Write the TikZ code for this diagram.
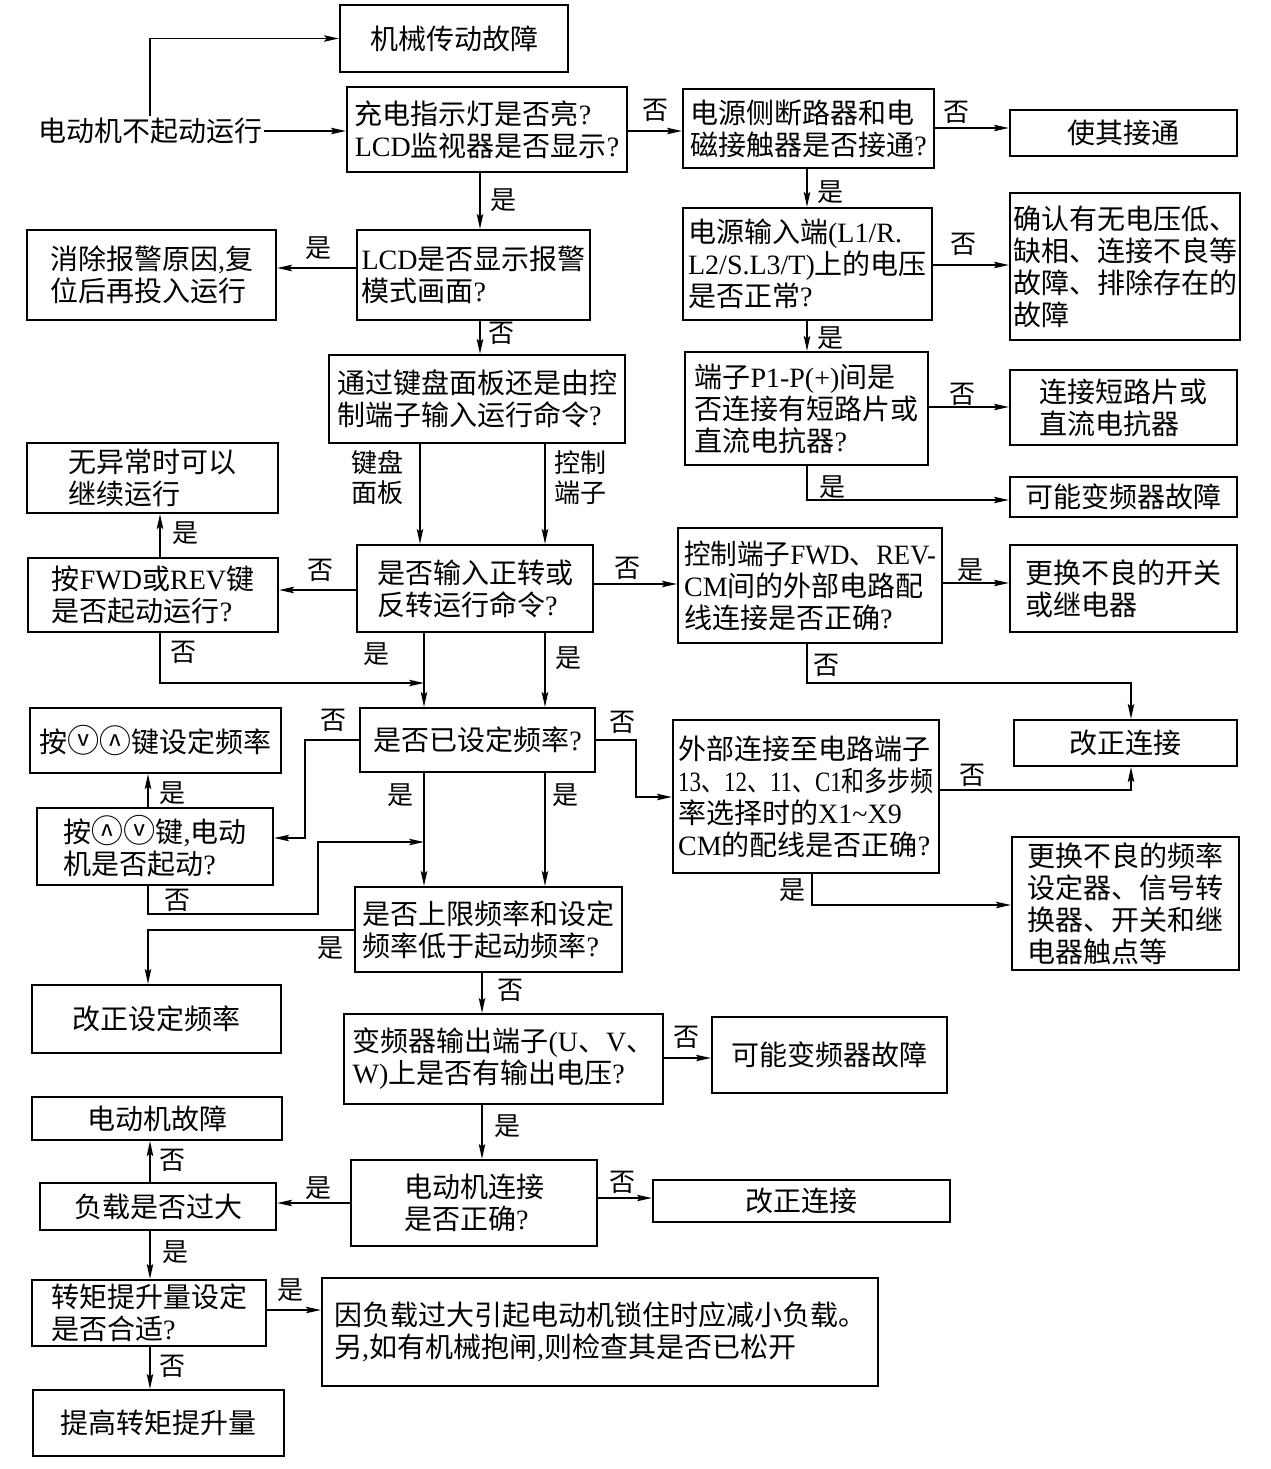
\documentclass[tikz,border=0pt]{standalone}
\usepackage{fontspec}
\setmainfont{Liberation Serif}
\newfontfamily\cjk{Noto Sans CJK SC}
\usetikzlibrary{arrows.meta}
\newcommand\lat[1]{{\rmfamily #1}}
\newcommand\qm{{\rmfamily ?}}
\newcommand\cirv{\scalebox{1.15}{ⓥ}}
\newcommand\cira{\scalebox{1.15}{\rotatebox[origin=c]{180}{ⓥ}}}
\newcommand\fsmain{\fontsize{28}{32}\selectfont\cjk}
\newcommand\fslbl{\fontsize{26}{30}\selectfont\cjk}
\newcommand\bx[6]{\node[box,minimum width={#4-#2},minimum height={#5-#3}] (#1) at ({(#2+#4)/2},{(#3+#5)/2}) {#6};}
\begin{document}
\begin{tikzpicture}[x=1pt,y=-1pt,
  box/.style={draw,line width=2.2pt,inner sep=0pt,align=left,font=\fsmain},
  txt/.style={inner sep=2pt,align=left,font=\fsmain},
  lbl/.style={inner sep=0pt,font=\fslbl},
  arr/.style={line width=1.8pt,-{Stealth[length=15pt,width=6.5pt,inset=3pt]}}]
\fill[white] (0,0) rectangle (1270,1469);
\useasboundingbox (0,0) rectangle (1270,1469);

% ---------- nodes ----------
\bx{A}{340}{5}{568}{72}{机械传动故障}
\node[txt] (start) at (150,131) {电动机不起动运行};
\bx{B}{347}{87}{627}{172}{充电指示灯是否亮\qm\\\lat{LCD}监视器是否显示\qm}
\bx{C}{683}{89}{934}{168}{电源侧断路器和电\\磁接触器是否接通\qm}
\bx{D}{1010}{110}{1237}{156}{使其接通}
\bx{E}{357}{230}{590}{320}{\lat{LCD}是否显示报警\\模式画面\qm}
\bx{F}{27}{230}{276}{320}{消除报警原因\lat{,}复\\位后再投入运行}
\bx{G}{683}{208}{932}{320}{电源输入端\lat{(L1/R.}\\\lat{L2/S.L3/T)}上的电压\\是否正常\qm}
\bx{H}{1010}{193}{1240}{340}{确认有无电压低、\\缺相、连接不良等\\故障、排除存在的\\故障}
\bx{I}{685}{352}{928}{465}{端子\lat{P1-P(+)}间是\\否连接有短路片或\\直流电抗器\qm}
\bx{J}{1010}{370}{1237}{445}{连接短路片或\\直流电抗器}
\bx{K}{1010}{477}{1237}{517}{可能变频器故障}
\bx{L}{329}{355}{625}{443}{通过键盘面板还是由控\\制端子输入运行命令\qm}
\bx{M}{357}{545}{593}{632}{是否输入正转或\\反转运行命令\qm}
\bx{N}{28}{558}{278}{632}{按\lat{FWD}或\lat{REV}键\\是否起动运行\qm}
\bx{O}{27}{443}{278}{513}{无异常时可以\\继续运行}
\bx{P}{678}{528}{942}{643}{\scalebox{0.95}[1]{控制端子\lat{FWD}、\lat{REV-}}\\\lat{CM}间的外部电路配\\线连接是否正确\qm}
\bx{Q}{1010}{545}{1237}{632}{更换不良的开关\\或继电器}
\bx{R}{1014}{720}{1237}{766}{改正连接}
\bx{S}{360}{708}{595}{772}{是否已设定频率\qm}
\bx{T}{30}{708}{281}{773}{按\cirv\cira 键设定频率}
\bx{U}{37}{808}{273}{885}{按\cira\cirv 键\lat{,}电动\\机是否起动\qm}
\bx{V}{673}{720}{939}{873}{外部连接至电路端子\\\scalebox{0.82}[1]{\lat{13}、\lat{12}、\lat{11}、\lat{C1}和多步频}\\率选择时的\lat{X1\char`~X9}\\\lat{CM}的配线是否正确\qm}
\bx{W}{1012}{837}{1239}{970}{更换不良的频率\\设定器、信号转\\换器、开关和继\\电器触点等}
\bx{X}{355}{887}{622}{972}{是否上限频率和设定\\频率低于起动频率\qm}
\bx{Y}{32}{985}{281}{1053}{改正设定频率}
\bx{Z}{344}{1014}{663}{1104}{变频器输出端子\lat{(U}、\lat{V}、\\\lat{W)}上是否有输出电压\qm}
\bx{AA}{712}{1017}{947}{1093}{可能变频器故障}
\bx{AB}{351}{1160}{597}{1246}{电动机连接\\是否正确\qm}
\bx{AC}{653}{1180}{950}{1222}{改正连接}
\bx{AD}{40}{1183}{276}{1230}{负载是否过大}
\bx{AE}{32}{1097}{282}{1140}{电动机故障}
\bx{AF}{32}{1280}{266}{1346}{转矩提升量设定\\是否合适\qm}
\bx{AG}{322}{1278}{878}{1386}{因负载过大引起电动机锁住时应减小负载。\\另\lat{,}如有机械抱闸\lat{,}则检查其是否已松开}
\bx{AH}{33}{1390}{284}{1456}{提高转矩提升量}

% ---------- helper coordinates ----------
\coordinate (x148) at (148,0);
\coordinate (x150) at (150,0);
\coordinate (x160) at (160,0);
\coordinate (x420) at (420,0);
\coordinate (x424) at (424,0);
\coordinate (x480) at (480,0);
\coordinate (x482) at (482,0);
\coordinate (x545) at (545,0);
\coordinate (x807) at (807,0);
\coordinate (x812) at (812,0);
\coordinate (j1) at (424,683);
\coordinate (j2) at (424,842);
\coordinate (r1) at (807,683);
\coordinate (s1) at (305,740);
\coordinate (s2) at (305,838);
\coordinate (u1) at (148,914);
\coordinate (u2) at (318,914);
\coordinate (u3) at (318,842);
\coordinate (v1) at (636,740);
\coordinate (v2) at (636,797);
\coordinate (w1) at (812,905);
\coordinate (k1) at (807,500);
\coordinate (vr) at (1131,790);

% ---------- connectors ----------
\draw[arr] (start.north) |- (A.west);
\draw[arr] (start.east) -- (start.east -| B.west);
\draw[arr] (B.east |- 0,131) -- (C.west |- 0,131);
\draw[arr] (C.east |- 0,128) -- (D.west |- 0,128);
\draw[arr] (B.south -| x480) -- (E.north -| x480);
\draw[arr] (E.west |- 0,268) -- (F.east |- 0,268);
\draw[arr] (C.south -| x807) -- (G.north -| x807);
\draw[arr] (G.east |- 0,265) -- (H.west |- 0,265);
\draw[arr] (G.south -| x807) -- (I.north -| x807);
\draw[arr] (I.east |- 0,407) -- (J.west |- 0,407);
\draw[arr] (I.south -| x807) -- (k1) -- (K.west |- k1);
\draw[arr] (E.south -| x480) -- (L.north -| x480);
\draw[arr] (L.south -| x420) -- (M.north -| x420);
\draw[arr] (L.south -| x545) -- (M.north -| x545);
\draw[arr] (M.west |- 0,590) -- (N.east |- 0,590);
\draw[arr] (N.north -| x160) -- (O.south -| x160);
\draw[arr] (M.east |- 0,584) -- (P.west |- 0,584);
\draw[arr] (P.east |- 0,583) -- (Q.west |- 0,583);
\draw[arr] (P.south -| x807) -- (r1) -| (R.north -| vr);
\draw[arr] (N.south -| x160) |- (j1);
\draw[arr] (M.south -| x424) -- (S.north -| x424);
\draw[arr] (M.south -| x545) -- (S.north -| x545);
\draw[arr] (S.west |- s1) -- (s1) -- (s2) -- (U.east |- s2);
\draw[arr] (U.north -| x148) -- (T.south -| x148);
\draw[arr] (U.south -| x148) -- (u1) -- (u2) -- (u3) -- (j2);
\draw[arr] (S.south -| x424) -- (X.north -| x424);
\draw[arr] (S.south -| x545) -- (X.north -| x545);
\draw[arr] (S.east |- v1) -- (v1) -- (v2) -- (V.west |- v2);
\draw[arr] (V.east |- vr) -- (vr) -- (R.south -| vr);
\draw[arr] (V.south -| x812) -- (w1) -- (W.west |- w1);
\draw[arr] (X.west |- 0,930) -| (Y.north -| x148);
\draw[arr] (X.south -| x482) -- (Z.north -| x482);
\draw[arr] (Z.east |- 0,1058) -- (AA.west |- 0,1058);
\draw[arr] (Z.south -| x482) -- (AB.north -| x482);
\draw[arr] (AB.east |- 0,1198) -- (AC.west |- 0,1198);
\draw[arr] (AB.west |- 0,1203) -- (AD.east |- 0,1203);
\draw[arr] (AD.north -| x150) -- (AE.south -| x150);
\draw[arr] (AD.south -| x150) -- (AF.north -| x150);
\draw[arr] (AF.east |- 0,1310) -- (AG.west |- 0,1310);
\draw[arr] (AF.south -| x150) -- (AH.north -| x150);

% ---------- labels ----------
\node[lbl] at (655,110) {否};
\node[lbl] at (956,112) {否};
\node[lbl] at (503,200) {是};
\node[lbl] at (318,248) {是};
\node[lbl] at (830,192) {是};
\node[lbl] at (963,244) {否};
\node[lbl] at (830,338) {是};
\node[lbl] at (962,394) {否};
\node[lbl] at (832,487) {是};
\node[lbl] at (501,333) {否};
\node[lbl,align=left] at (377,478) {键盘\\面板};
\node[lbl,align=left] at (580,478) {控制\\端子};
\node[lbl] at (320,570) {否};
\node[lbl] at (185,533) {是};
\node[lbl] at (627,568) {否};
\node[lbl] at (970,570) {是};
\node[lbl] at (826,665) {否};
\node[lbl] at (183,652) {否};
\node[lbl] at (376,654) {是};
\node[lbl] at (568,658) {是};
\node[lbl] at (333,720) {否};
\node[lbl] at (622,722) {否};
\node[lbl] at (172,793) {是};
\node[lbl] at (400,795) {是};
\node[lbl] at (565,795) {是};
\node[lbl] at (177,900) {否};
\node[lbl] at (972,775) {否};
\node[lbl] at (792,890) {是};
\node[lbl] at (330,948) {是};
\node[lbl] at (510,990) {否};
\node[lbl] at (686,1037) {否};
\node[lbl] at (507,1126) {是};
\node[lbl] at (622,1182) {否};
\node[lbl] at (318,1188) {是};
\node[lbl] at (172,1160) {否};
\node[lbl] at (175,1252) {是};
\node[lbl] at (290,1290) {是};
\node[lbl] at (172,1366) {否};
\end{tikzpicture}
\end{document}
